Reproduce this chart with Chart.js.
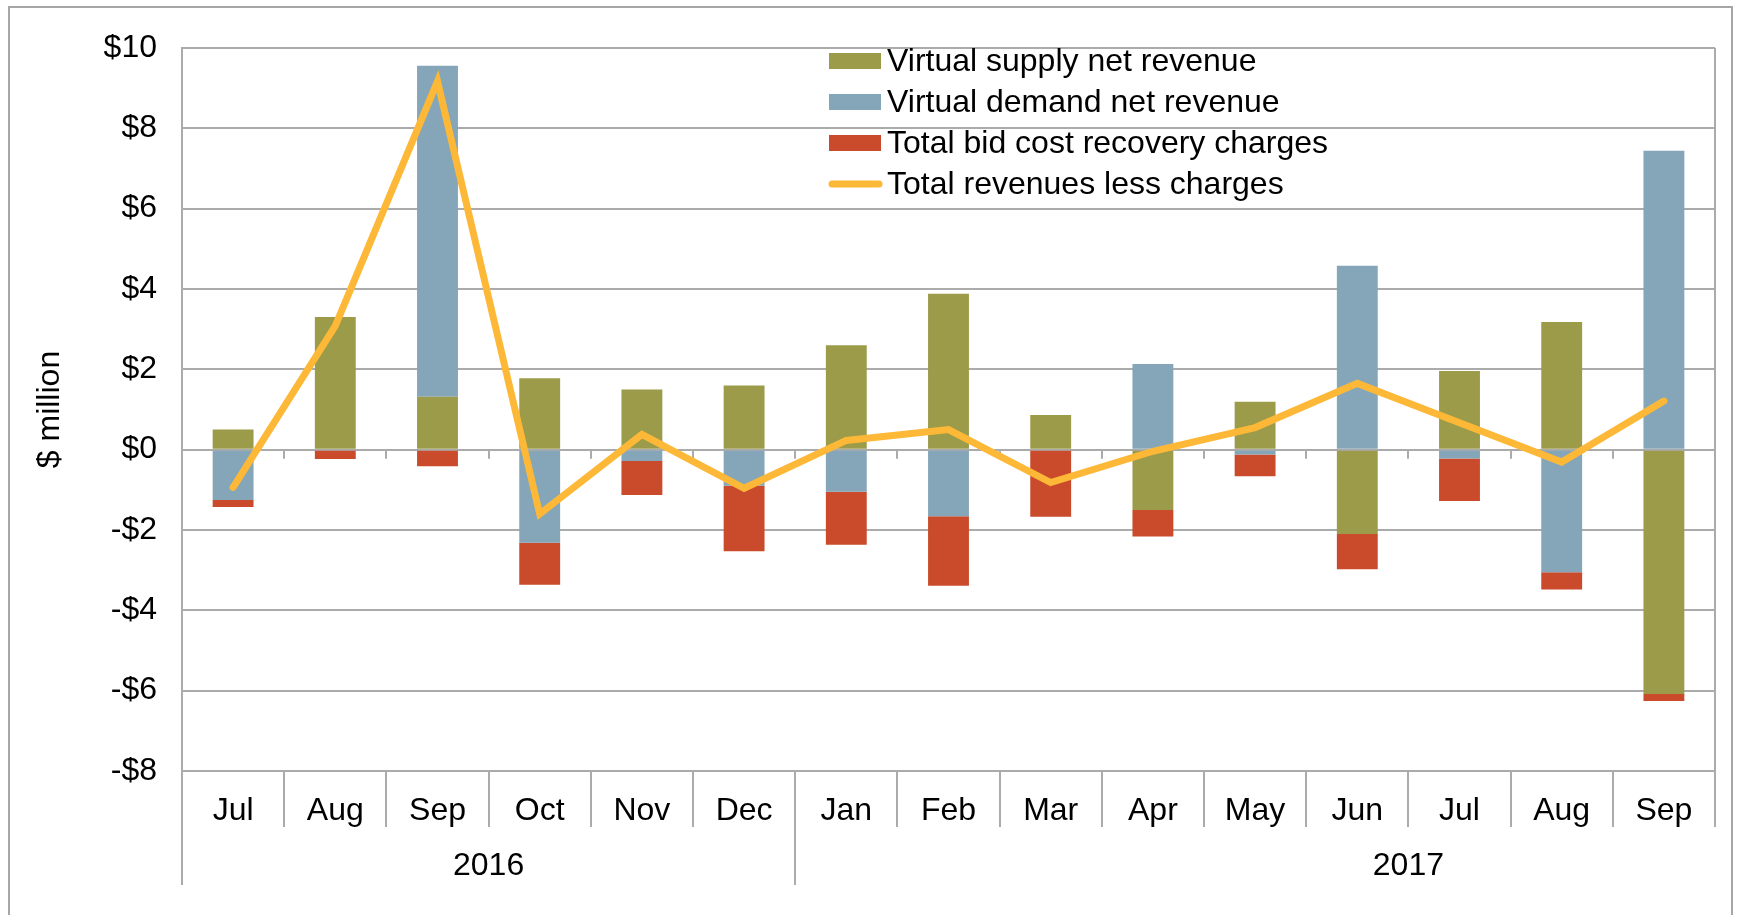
<!DOCTYPE html>
<html>
<head>
<meta charset="utf-8">
<title>Virtual bidding net revenues</title>
<script src="https://cdn.jsdelivr.net/npm/chart.js@4.4.1/dist/chart.umd.min.js"></script>
<style>
    html, body { margin: 0; padding: 0; background: #ffffff; }
    #wrap { width: 1741px; height: 915px; }
</style>
</head>
<body>
<div id="wrap"><canvas id="theChart" width="1741" height="915"></canvas></div>
<script>
// Monthly values, $ million
const months = ["Jul", "Aug", "Sep", "Oct", "Nov", "Dec", "Jan", "Feb", "Mar", "Apr", "May", "Jun", "Jul", "Aug", "Sep"];
const supplyRevenue = [0.5, 3.3, 1.32, 1.78, 1.5, 1.6, 2.6, 3.88, 0.86, -1.5, 1.19, -2.1, 1.96, 3.18, -6.08];
const demandRevenue = [-1.25, 0, 8.24, -2.32, -0.28, -0.9, -1.05, -1.66, 0, 2.13, -0.12, 4.58, -0.22, -3.05, 7.44];
const bcrCharges = [-0.18, -0.23, -0.41, -1.04, -0.85, -1.63, -1.32, -1.73, -1.67, -0.66, -0.54, -0.88, -1.06, -0.43, -0.18];
const netTotal = [-0.94, 3.08, 9.17, -1.6, 0.38, -0.96, 0.23, 0.5, -0.82, -0.04, 0.55, 1.65, 0.67, -0.31, 1.21];

// second level of the category axis (Excel centres 2017 over a full year)
const years = ["2016", "2017"];
const yearStarts = [0, 6];
const yearSpans = [6, 12];

const yTicks = [-8, -6, -4, -2, 0, 2, 4, 6, 8, 10];

const FONT = "'Liberation Sans', Arial, sans-serif";
const gridColor = "#ABABAB";
const colors = {
    supply: "#9B9B4A",
    demand: "#84A6B8",
    charges: "#C94B2B",
    net: "#FDB838",
};

/**
 * Draws the Excel-style bits Chart.js has no option for:
 * two-level category dividers, zero-line ticks, year labels, legend, frame
 */
const excelFrame = {
    id: "excelFrame",
    beforeDatasetsDraw(chart) {
        const { ctx, scales: { x, y } } = chart;
        const y0 = y.getPixelForValue(0);
        ctx.save();
        ctx.strokeStyle = gridColor;
        ctx.lineWidth = 2;
        ctx.beginPath();
        for (let i = 1; i < months.length; i++) {
            const bx = Math.round((x.getPixelForValue(i - 1) + x.getPixelForValue(i)) / 2);
            ctx.moveTo(bx, y0);
            ctx.lineTo(bx, y0 + 9);
        }
        ctx.stroke();
        ctx.restore();
    },
    afterDraw(chart) {
        const { ctx, chartArea, scales: { x } } = chart;
        const bottom = chartArea.bottom;
        const step = x.getPixelForValue(1) - x.getPixelForValue(0);
        ctx.save();
        ctx.strokeStyle = gridColor;
        ctx.lineWidth = 2;
        ctx.beginPath();
        // plot area right edge
        ctx.moveTo(chartArea.right, chartArea.top);
        ctx.lineTo(chartArea.right, bottom + 56);
        // left axis runs down through both label rows
        ctx.moveTo(chartArea.left, bottom);
        ctx.lineTo(chartArea.left, bottom + 114);
        for (let i = 1; i < months.length; i++) {
            const bx = Math.round(x.getPixelForValue(i) - step / 2);
            ctx.moveTo(bx, bottom);
            ctx.lineTo(bx, yearStarts.includes(i) ? bottom + 114 : bottom + 56);
        }
        ctx.stroke();

        // year labels
        ctx.fillStyle = "#000";
        ctx.font = "32px " + FONT;
        ctx.textAlign = "center";
        ctx.textBaseline = "middle";
        years.forEach((yr, i) => {
            const cx = x.getPixelForValue(yearStarts[i]) + step * (yearSpans[i] / 2 - 0.5);
            ctx.fillText(yr, cx, bottom + 95);
        });

        // legend
        const lx = 829, ly = 61, rowH = 41;
        ctx.textAlign = "left";
        chart.data.datasets.forEach((ds, i) => {
            const cy = ly + i * rowH;
            if (ds.type === "line") {
                ctx.strokeStyle = ds.borderColor;
                ctx.lineWidth = 7;
                ctx.lineCap = "round";
                ctx.beginPath();
                ctx.moveTo(lx + 3, cy);
                ctx.lineTo(lx + 50, cy);
                ctx.stroke();
            } else {
                ctx.fillStyle = ds.backgroundColor;
                ctx.fillRect(lx, cy - 8, 52, 16);
            }
            ctx.fillStyle = "#000";
            ctx.fillText(ds.label, 887, cy + 1);
        });

        // outer frame, its bottom edge runs off the picture
        ctx.strokeStyle = "#A6A6A6";
        ctx.lineWidth = 2;
        ctx.strokeRect(9, 7, 1723, 930);
        ctx.restore();
    },
};

const ctx = document.getElementById("theChart");
const theChart = new Chart(ctx, {
    data: {
        labels: months,
        datasets: [
            { type: "bar", label: "Virtual supply net revenue", data: supplyRevenue, backgroundColor: colors.supply, stack: "bars", order: 1 },
            { type: "bar", label: "Virtual demand net revenue", data: demandRevenue, backgroundColor: colors.demand, stack: "bars", order: 1 },
            { type: "bar", label: "Total bid cost recovery charges", data: bcrCharges, backgroundColor: colors.charges, stack: "bars", order: 1 },
            {
                type: "line", label: "Total revenues less charges", data: netTotal,
                borderColor: colors.net, backgroundColor: colors.net, borderWidth: 7,
                pointRadius: 0, tension: 0, borderCapStyle: "round", stack: "line", order: 0,
            },
        ],
    },
    options: {
        responsive: false,
        animation: false,
        devicePixelRatio: 1,
        layout: { padding: { top: 48, right: 26, left: 0, bottom: 0 } },
        datasets: { bar: { categoryPercentage: 1, barPercentage: 0.4 } },
        scales: {
            x: {
                stacked: true,
                offset: true,
                grid: { display: false },
                border: { display: false },
                ticks: { color: "#000", font: { family: FONT, size: 32 }, padding: 13, maxRotation: 0 },
                afterFit: (scale) => { scale.height = 144; },
            },
            y: {
                stacked: true,
                min: -8,
                max: 10,
                afterBuildTicks: (scale) => { scale.ticks = yTicks.map((v) => ({ value: v })); },
                grid: { color: gridColor, lineWidth: 2, drawTicks: false },
                border: { display: true, color: gridColor, width: 2 },
                ticks: {
                    color: "#000",
                    font: { family: FONT, size: 32 },
                    padding: 25,
                    callback: (v) => (v < 0 ? "-$" + Math.abs(v) : "$" + v),
                },
                title: {
                    display: true,
                    text: "$ million",
                    color: "#000",
                    font: { family: FONT, size: 32 },
                    padding: { top: 31, bottom: 0 },
                },
                afterFit: (scale) => { scale.width = 182; },
            },
        },
        plugins: {
            legend: { display: false },
            tooltip: { enabled: false },
        },
    },
    plugins: [excelFrame],
});
</script>
</body>
</html>
